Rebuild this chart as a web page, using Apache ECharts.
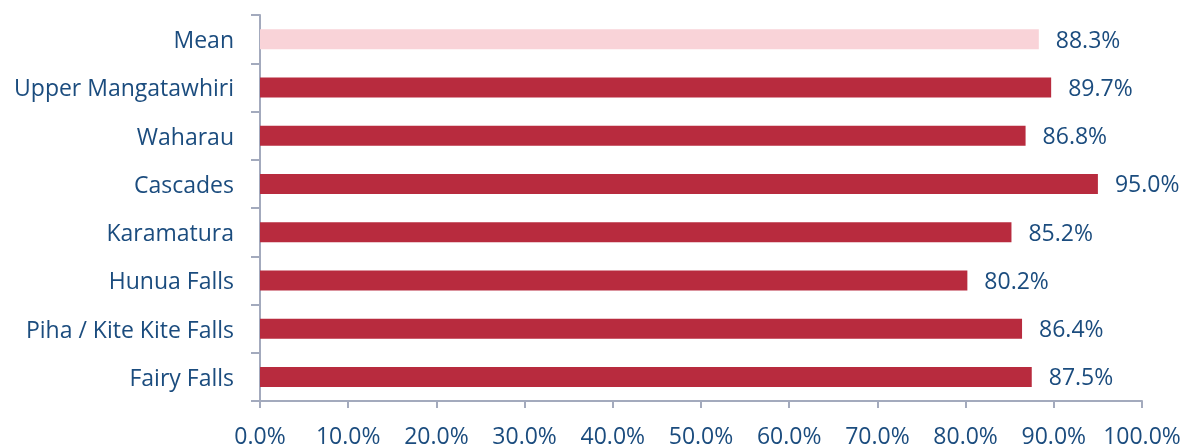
<!DOCTYPE html>
<html>
<head>
<meta charset="utf-8">
<script src="https://cdn.jsdelivr.net/npm/echarts@6/dist/echarts.min.js"></script>
<style>
  html, body { margin: 0; padding: 0; background: #ffffff; }
  #chart { width: 1193px; height: 446px; }
</style>
</head>
<body>
<div id="chart"></div>
<script>
// Sites listed bottom-to-top (ECharts category axis starts at the bottom)
const sites = ['Fairy Falls', 'Piha / Kite Kite Falls', 'Hunua Falls', 'Karamatura', 'Cascades', 'Waharau', 'Upper Mangatawhiri', 'Mean'];
const percentages = [87.5, 86.4, 80.2, 85.2, 95.0, 86.8, 89.7, 88.3];
const xTicks = [0, 10, 20, 30, 40, 50, 60, 70, 80, 90, 100];

const textColor = '#1B4C7E';
const axisColor = '#A3AABD';
const barColor = '#B82B3E';
const meanColor = '#F9D3D8';
const fontFamily = '"Open Sans", sans-serif';

const chart = echarts.init(document.getElementById('chart'));
chart.setOption({
  animation: false,
  grid: { left: 260, right: 51, top: 15, bottom: 45, containLabel: false, outerBoundsMode: 'none' },
  xAxis: {
    type: 'value',
    min: xTicks[0],
    max: xTicks[xTicks.length - 1],
    interval: 10,
    splitLine: { show: false },
    axisLine: { show: true, lineStyle: { color: axisColor, width: 2 } },
    axisTick: { show: true, length: 7, lineStyle: { color: axisColor, width: 2 } },
    axisLabel: {
      color: textColor, fontFamily: fontFamily, fontSize: 23, margin: 25,
      formatter: v => v.toFixed(1) + '%'
    }
  },
  yAxis: {
    type: 'category',
    data: sites,
    axisLine: { show: true, lineStyle: { color: axisColor, width: 2 } },
    axisTick: { show: true, length: 9, lineStyle: { color: axisColor, width: 2 } },
    axisLabel: {
      margin: 26,
      formatter: v => '{name|' + v + '}',
      rich: {
        name: {
          color: textColor, fontFamily: fontFamily, fontSize: 23,
          padding: [5, 0, 0, 0]
        }
      }
    }
  },
  series: [{
    type: 'bar',
    barWidth: 20,
    data: percentages.map((v, i) => ({
      value: v,
      itemStyle: { color: sites[i] === 'Mean' ? meanColor : barColor }
    })),
    label: {
      show: true,
      position: 'right',
      distance: 17,
      offset: [0, 2],
      color: textColor,
      fontFamily: fontFamily,
      fontSize: 23,
      formatter: p => p.value.toFixed(1) + '%'
    }
  }]
});
</script>
</body>
</html>
